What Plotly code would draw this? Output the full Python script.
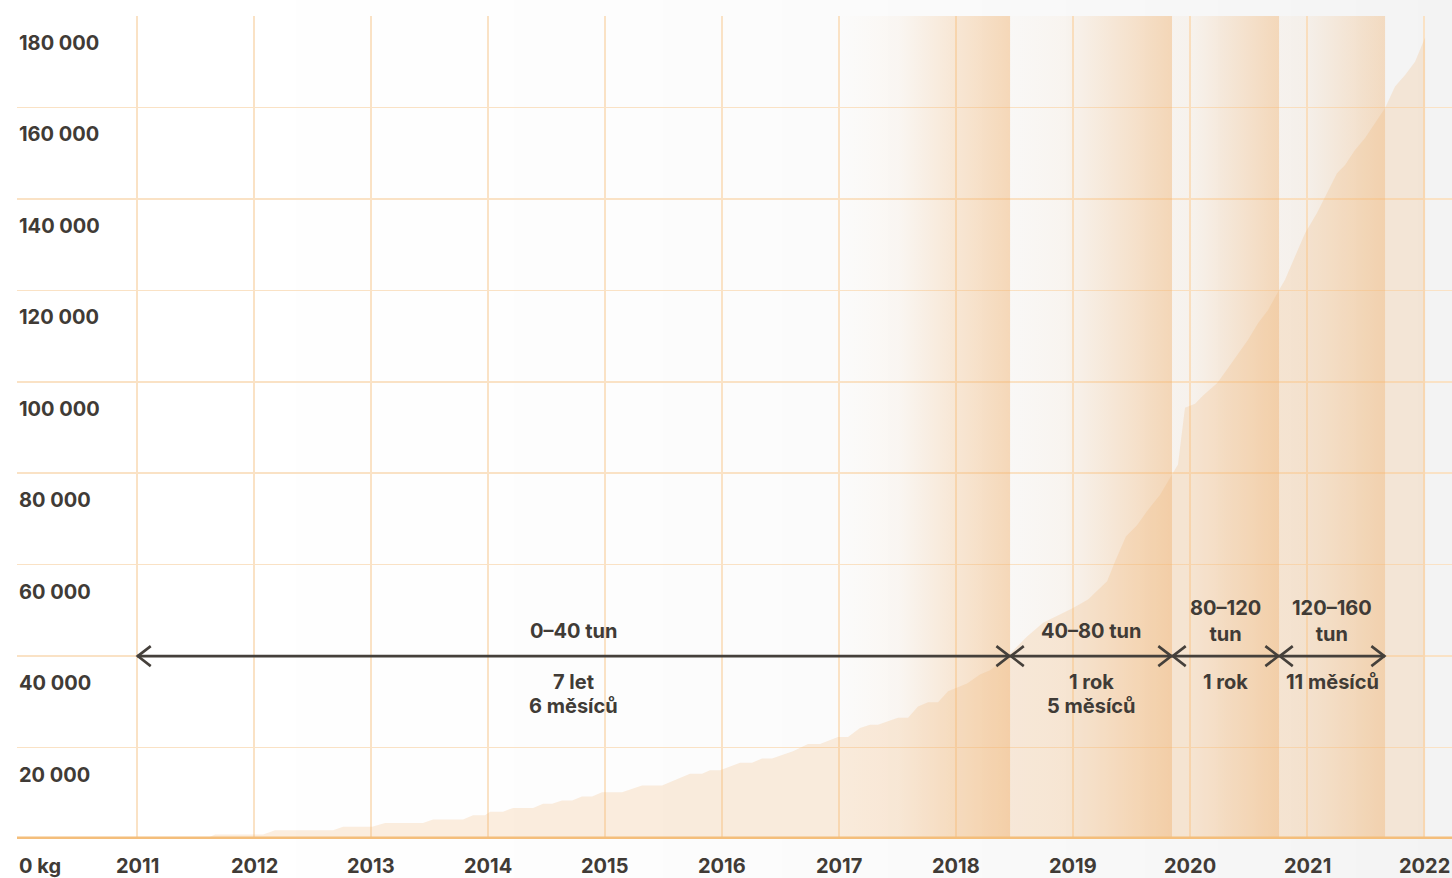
import base64
import struct
import zlib
import plotly.graph_objects as go

# ---------------- data ----------------
# cumulative amount (kg), x in decimal years
years = [2011.000, 2011.581, 2011.667, 2012.077, 2012.179, 2012.675, 2012.761, 2013.009,
         2013.120, 2013.444, 2013.530, 2013.786, 2013.872, 2013.974, 2014.017, 2014.128,
         2014.214, 2014.385, 2014.470, 2014.547, 2014.632, 2014.718, 2014.803, 2014.889,
         2014.974, 2015.145, 2015.316, 2015.487, 2015.726, 2015.829, 2015.897, 2015.983,
         2016.154, 2016.256, 2016.342, 2016.427, 2016.607, 2016.735, 2016.838, 2016.991,
         2017.077, 2017.179, 2017.265, 2017.333, 2017.504, 2017.590, 2017.675, 2017.761,
         2017.846, 2017.932, 2018.094, 2018.205, 2018.291, 2018.393, 2018.462, 2018.607,
         2018.744, 2019.000, 2019.128, 2019.291, 2019.359, 2019.453, 2019.547, 2019.632,
         2019.744, 2019.846, 2019.897, 2019.957, 2020.043, 2020.111, 2020.231, 2020.325,
         2020.402, 2020.496, 2020.581, 2020.667, 2020.761, 2020.812, 2020.897, 2020.983,
         2021.085, 2021.154, 2021.256, 2021.325, 2021.410, 2021.496, 2021.581, 2021.667,
         2021.752, 2021.838, 2021.923, 2022.009]
kg = [0, 0, 1000, 1000, 1900, 1900, 2700, 2700,
      3500, 3500, 4260, 4260, 5200, 5200, 5950, 5950,
      6800, 6800, 7700, 7700, 8400, 8400, 9300, 9300,
      10200, 10200, 11700, 11700, 14250, 14250, 15050, 15050,
      16650, 16650, 17600, 17600, 19200, 20800, 20800, 22300,
      22300, 24300, 25000, 25000, 26500, 26500, 29000, 29900,
      29900, 32300, 34000, 36000, 36900, 38900, 40500, 44300,
      47300, 50500, 52400, 56400, 60700, 66200, 68600, 71700,
      75300, 79800, 81900, 94300, 95200, 97000, 99700, 103000,
      105900, 109200, 112800, 115700, 120100, 122300, 127400, 132500,
      136900, 140500, 145600, 147400, 150700, 153300, 156600, 159900,
      164600, 167100, 170000, 175300]

year_ticks = [2011, 2012, 2013, 2014, 2015, 2016, 2017, 2018, 2019, 2020, 2021, 2022]
year_labels = ["2011", "2012", "2013", "2014", "2015", "2016", "2017", "2018",
               "2019", "2020", "2021", "2022"]
kg_ticks = [20000, 40000, 60000, 80000, 100000, 120000, 140000, 160000, 180000]
kg_labels = ["20 000", "40 000", "60 000", "80 000", "100 000", "120 000",
             "140 000", "160 000", "180 000"]
zero_label = "0 kg"

period_bounds = [2011.000, 2018.462, 2019.846, 2020.761, 2021.667]
period_amounts = ["0–40 tun", "40–80 tun", "80–120<br>tun", "120–160<br>tun"]
period_durations = [["7 let", "6 měsíců"], ["1 rok", "5 měsíců"], ["1 rok"], ["11 měsíců"]]
arrow_level = 40000
band_starts = [2017.000, 2018.462, 2019.846, 2020.761]
band_ends = [2018.462, 2019.846, 2020.761, 2021.667]

# ---------------- style ----------------
X_RANGE = [2009.974, 2022.239]
Y_RANGE = [0, 180000]
FIG_W, FIG_H = 1452, 878
M_L, M_R, M_T, M_B = 17, 0, 16, 39
PLOT_W = FIG_W - M_L - M_R
PLOT_H = FIG_H - M_T - M_B
TEXT = "#403b36"
GRID = "#fae2c5"
FONT = "Inter"


def gradient_png(width=400):
    row = bytearray([0])
    for i in range(width):
        t = i / (width - 1)
        v = round(255 - 12 * t * t)
        row += bytes([v, v, v])

    def chunk(tag, data):
        c = struct.pack(">I", len(data)) + tag + data
        return c + struct.pack(">I", zlib.crc32(tag + data) & 0xFFFFFFFF)

    png = (b"\x89PNG\r\n\x1a\n"
           + chunk(b"IHDR", struct.pack(">IIBBBBB", width, 1, 8, 2, 0, 0, 0))
           + chunk(b"IDAT", zlib.compress(bytes(row)))
           + chunk(b"IEND", b""))
    return "data:image/png;base64," + base64.b64encode(png).decode()


fig = go.Figure()

# gradient bands
band_profiles = [
    [[0, "rgba(240,176,108,0)"], [0.35, "rgba(240,176,108,0.06)"], [1, "rgba(240,176,108,0.46)"]],
    [[0, "rgba(240,176,108,0.02)"], [0.35, "rgba(240,176,108,0.07)"], [1, "rgba(240,176,108,0.46)"]],
    [[0, "rgba(240,176,108,0.06)"], [0.2, "rgba(240,176,108,0.08)"], [1, "rgba(240,176,108,0.44)"]],
    [[0, "rgba(240,176,108,0.06)"], [0.25, "rgba(240,176,108,0.08)"], [1, "rgba(240,176,108,0.38)"]],
]
for x0, x1, prof in zip(band_starts, band_ends, band_profiles):
    fig.add_trace(go.Scatter(
        x=[x0, x1, x1, x0, x0], y=[Y_RANGE[0], Y_RANGE[0], Y_RANGE[1], Y_RANGE[1], Y_RANGE[0]],
        mode="lines", line=dict(width=0), fill="toself",
        fillgradient=dict(type="horizontal", colorscale=prof, start=x0, stop=x1),
        hoverinfo="skip", showlegend=False))

# cumulative area
fig.add_trace(go.Scatter(
    x=years, y=kg, mode="lines", line=dict(width=0, color="rgba(240,178,110,0.22)"),
    fill="tozeroy", fillcolor="rgba(240,178,110,0.22)", showlegend=False,
    hoverinfo="skip"))

# arrows
arm_dx = 13 / PLOT_W * (X_RANGE[1] - X_RANGE[0])
arm_dy = 10 / PLOT_H * (Y_RANGE[1] - Y_RANGE[0])
tip_gap = 0.7 / PLOT_W * (X_RANGE[1] - X_RANGE[0])
ax, ay = [period_bounds[0], period_bounds[-1], None], [arrow_level, arrow_level, None]
for a, b in zip(period_bounds[:-1], period_bounds[1:]):
    la = a + tip_gap
    rb = b - tip_gap
    ax += [la + arm_dx, la, la + arm_dx, None]
    ay += [arrow_level + arm_dy, arrow_level, arrow_level - arm_dy, None]
    ax += [rb - arm_dx, rb, rb - arm_dx, None]
    ay += [arrow_level + arm_dy, arrow_level, arrow_level - arm_dy, None]
fig.add_trace(go.Scatter(x=ax, y=ay, mode="lines",
                         line=dict(color="#45403b", width=2.6),
                         hoverinfo="skip", showlegend=False))

font = dict(family=FONT, size=20, color=TEXT, weight=700)
annotations = []
for a, b, amt, dur in zip(period_bounds[:-1], period_bounds[1:], period_amounts, period_durations):
    mid = (a + b) / 2
    n = amt.count("<br>") + 1
    annotations.append(dict(x=mid, y=arrow_level, text=amt, showarrow=False,
                            yanchor="middle", yshift=25 + 10.5 * (n - 1),
                            font=font, align="center"))
    for i, line in enumerate(dur):
        annotations.append(dict(x=mid, y=arrow_level, text=line, showarrow=False,
                                yanchor="middle", yshift=-26 - 24 * i,
                                height=22, borderpad=0, valign="middle",
                                font=font, align="center"))
for v, lab in zip(kg_ticks, kg_labels):
    annotations.append(dict(xref="paper", x=0, y=v, text=lab, showarrow=False,
                            xanchor="left", yanchor="middle", yshift=-27, font=font))
annotations.append(dict(xref="paper", x=0, y=0, text=zero_label, showarrow=False,
                        xanchor="left", yanchor="middle", yshift=-27, font=font))
for yv, lab in zip(year_ticks, year_labels):
    annotations.append(dict(x=yv, y=0, text=lab, showarrow=False,
                            xanchor="center", yanchor="middle", yshift=-27, font=font))

fig.update_layout(
    width=FIG_W, height=FIG_H,
    margin=dict(l=M_L, r=M_R, t=M_T, b=M_B, pad=0),
    paper_bgcolor="white", plot_bgcolor="rgba(0,0,0,0)",
    showlegend=False,
    annotations=annotations,
    images=[dict(source=gradient_png(), xref="paper", yref="paper",
                 x=-M_L / PLOT_W, y=1 + M_T / PLOT_H,
                 sizex=FIG_W / PLOT_W, sizey=FIG_H / PLOT_H,
                 xanchor="left", yanchor="top", sizing="stretch", layer="below")],
    shapes=[dict(type="line", xref="paper", x0=0, x1=1, yref="y", y0=0, y1=0,
                 line=dict(color="#f4be7b", width=5), layer="above")],
    xaxis=dict(range=X_RANGE, tickvals=year_ticks, showticklabels=False,
               showgrid=True, gridcolor=GRID, gridwidth=1.5, zeroline=False,
               showline=False, ticks=""),
    yaxis=dict(range=Y_RANGE, tickvals=kg_ticks, showticklabels=False,
               showgrid=True, gridcolor=GRID, gridwidth=1.5, zeroline=False,
               showline=False, ticks=""),
)

fig.write_html("out.html",
               config={"displayModeBar": False, "staticPlot": True},
               post_script="document.body.style.margin='0';"
                           "document.body.style.overflow='hidden';")
